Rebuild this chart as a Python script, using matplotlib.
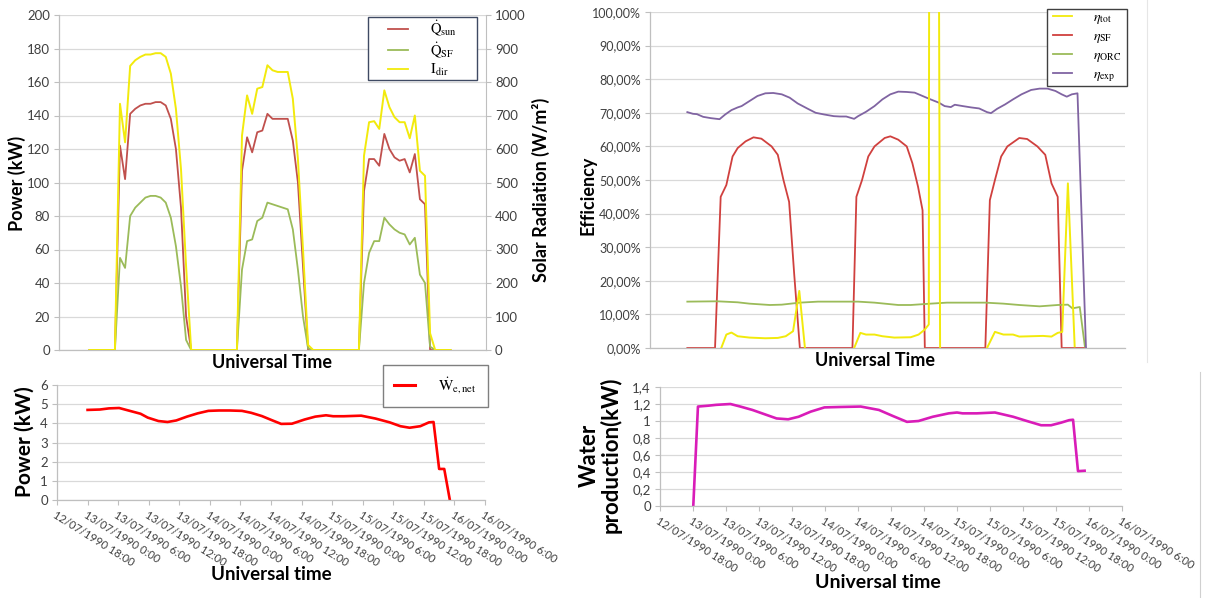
import numpy as np
import matplotlib
matplotlib.use("Agg")
import matplotlib.pyplot as plt
from matplotlib.ticker import FuncFormatter, MultipleLocator
from matplotlib.lines import Line2D
from matplotlib.patches import Rectangle

plt.rcParams['font.family'] = ['Lato', 'DejaVu Sans']
plt.rcParams['mathtext.fontset'] = 'stix'

# === DATA ===
# hours counted from 12/07/1990 18:00
t_hourly = np.arange(6, 78)

q_sun = ([0] * 6
         + [122, 102, 141, 144, 146, 147, 147, 148, 148, 146, 138, 120, 85, 20]
         + [0] * 10
         + [107, 127, 118, 130, 131, 141, 138, 138, 138, 138, 125, 100, 50, 0]
         + [0] * 10
         + [95, 114, 114, 110, 129, 120, 115, 113, 114, 106, 117, 90, 87, 0]
         + [0] * 4)
q_sf = ([0] * 6
        + [55, 49, 80, 85, 88, 91, 92, 92, 91, 88, 79, 62, 38, 6]
        + [0] * 10
        + [48, 65, 66, 77, 79, 88, 87, 86, 85, 84, 72, 48, 20, 1]
        + [0] * 10
        + [40, 58, 65, 65, 79, 75, 72, 70, 69, 63, 67, 45, 40, 2]
        + [0] * 4)
i_dir = ([0] * 6
         + [735, 620, 848, 865, 875, 882, 882, 886, 886, 875, 825, 720, 540, 250]
         + [0] * 10
         + [640, 760, 705, 780, 785, 850, 835, 830, 830, 830, 750, 570, 300, 15]
         + [0] * 10
         + [580, 680, 683, 660, 775, 725, 695, 680, 680, 632, 700, 535, 520, 50]
         + [0] * 4)

t_wnet = [6.0, 8.4, 10.2, 12.2, 14.3, 16.4, 17.8, 19.9, 21.7, 23.4, 25.5, 27.6, 29.7,
          31.8, 33.9, 36.3, 38.1, 40.2, 42.3, 44.0, 46.1, 48.6, 50.7, 52.8, 54.2, 56.3,
          59.7, 62.5, 65.3, 67.4, 69.2, 71.3, 73.0, 73.9, 75.0, 76.0, 77.1]
w_net = [4.70, 4.72, 4.78, 4.80, 4.65, 4.50, 4.30, 4.12, 4.07, 4.15, 4.35, 4.52, 4.65,
         4.67, 4.67, 4.65, 4.55, 4.38, 4.15, 3.97, 3.98, 4.20, 4.35, 4.42, 4.37, 4.37,
         4.40, 4.25, 4.05, 3.85, 3.77, 3.85, 4.05, 4.07, 1.62, 1.62, 0.0]

t_water = [6.05, 6.9, 8.75, 10.2, 12.8, 14.6, 16.8, 19.0, 21.2, 23.3, 25.2, 27.4, 29.9,
           32.8, 36.5, 39.8, 42.3, 44.9, 47.0, 49.6, 52.5, 54.0, 55.0, 57.6, 60.9, 64.2,
           66.7, 69.3, 71.1, 72.9, 74.4, 75.1, 76.0, 77.2]
water = [0.0, 1.17, 1.18, 1.19, 1.20, 1.17, 1.13, 1.08, 1.03, 1.02, 1.05, 1.11, 1.16,
         1.165, 1.17, 1.13, 1.06, 0.99, 1.00, 1.05, 1.09, 1.10, 1.09, 1.09, 1.10, 1.05,
         1.00, 0.95, 0.95, 0.98, 1.01, 1.015, 0.41, 0.415]

t_tot = [12.6, 13.5, 14.4, 15.5, 17.6, 20.4, 22.6, 24.0, 25.3, 26.4, 27.4, 31.0,
         36.1, 37.2, 38.2, 39.7, 41.1, 43.2, 46.1, 47.5, 48.6, 49.3, 49.6, 50.4, 51.3, 55.0,
         59.6, 61.0, 62.5, 64.2, 65.3, 67.4, 69.5, 71.0, 72.1, 72.9, 73.9, 75.1]
eta_tot = [0, 4.0, 4.6, 3.5, 3.1, 2.9, 3.0, 3.5, 5.0, 17.0, 0, np.nan,
           0, 4.5, 4.0, 4.0, 3.5, 3.1, 3.2, 4.0, 5.5, 7.0, 500, 500, 0, np.nan,
           0, 4.8, 4.0, 4.0, 3.4, 3.5, 3.6, 3.4, 4.5, 4.8, 49, 0.5]

t_sf = [6.6, 11.5, 12.5, 13.5, 14.6, 15.5, 16.9, 18.3, 19.7, 21.5, 22.6, 23.6, 24.6, 25.5, 26.5,
        35.8, 36.5, 37.5, 38.6, 39.7, 41.5, 42.5, 43.9, 45.4, 46.4, 47.4, 48.2, 48.6,
        59.3, 60.1, 61.0, 62.1, 63.2, 65.3, 66.7, 68.5, 69.9, 71.0, 72.1, 72.8, 77.1]
eta_sf = [0, 0, 45, 48.5, 57, 59.5, 61.5, 62.7, 62.3, 60.0, 57.5, 50, 43.5, 22, 0,
          0, 45, 50, 57, 60, 62.5, 63, 62, 60, 55, 48, 41, 0,
          0, 44, 50, 57, 60, 62.5, 62.2, 60, 57.5, 49, 45, 0, 0]

t_orc = [6.6, 11.9, 15.5, 17.6, 21.2, 23.3, 26.5, 29.7, 36.8, 39.7, 43.9, 46.1, 49.6,
         52.5, 59.3, 62.5, 65.3, 68.9, 72.1, 73.9, 74.7, 76.0, 76.9]
eta_orc = [13.8, 13.9, 13.6, 13.2, 12.8, 12.9, 13.5, 13.8, 13.8, 13.5, 12.8, 12.8, 13.2,
           13.5, 13.5, 13.2, 12.8, 12.4, 12.8, 12.9, 11.8, 12.2, 0.5]

t_exp = [6.6, 7.6, 8.3, 9.4, 10.8, 12.3, 13.3, 14.4, 15.5, 16.2, 17.6, 19.0, 20.4, 21.8,
         23.3, 24.7, 26.1, 27.9, 29.3, 30.8, 32.5, 33.6, 34.7, 36.1, 36.8, 38.2, 39.7,
         41.1, 42.5, 43.9, 45.4, 46.8, 48.2, 49.6, 51.1, 52.1, 53.2, 53.9, 55.3, 56.8,
         58.2, 59.6, 60.3, 61.4, 62.8, 64.2, 65.7, 67.4, 68.9, 70.3, 71.7, 72.8, 73.7,
         74.6, 75.6, 77.1]
eta_exp = [70.2, 69.7, 69.6, 68.8, 68.4, 68.1, 69.5, 70.8, 71.6, 72.0, 73.5, 75.0, 75.8,
           75.9, 75.5, 74.5, 72.8, 71.2, 70.0, 69.5, 69.0, 68.9, 68.9, 68.2, 69.0, 70.3,
           72.0, 74.0, 75.5, 76.3, 76.2, 76.0, 75.0, 74.0, 73.0, 72.0, 71.7, 72.4, 72.0,
           71.6, 71.3, 70.2, 69.9, 71.2, 72.5, 74.0, 75.5, 76.8, 77.2, 77.2, 76.5, 75.5,
           74.8, 75.5, 75.8, 0.0]

x_ticks = np.arange(0, 85, 6)
x_tick_labels = ["12/07/1990 18:00", "13/07/1990 0:00", "13/07/1990 6:00",
                 "13/07/1990 12:00", "13/07/1990 18:00", "14/07/1990 0:00",
                 "14/07/1990 6:00", "14/07/1990 12:00", "14/07/1990 18:00",
                 "15/07/1990 0:00", "15/07/1990 6:00", "15/07/1990 12:00",
                 "15/07/1990 18:00", "16/07/1990 0:00", "16/07/1990 6:00"]

# === STYLE ===
W, H = 1209, 598
GRID = '#D9D9D9'
AXIS = '#BFBFBF'
TXT = '#404040'

fig = plt.figure(figsize=(W / 100, H / 100), dpi=100)


def px_axes(l, t, r, b):
    return fig.add_axes([l / W, 1 - b / H, (r - l) / W, (b - t) / H])


def excel_style(ax):
    for s in ['top', 'right']:
        ax.spines[s].set_visible(False)
    for s in ['left', 'bottom']:
        ax.spines[s].set_color(AXIS)
        ax.spines[s].set_linewidth(0.9)
    ax.grid(axis='y', color=GRID, lw=0.9)
    ax.set_axisbelow(True)
    ax.tick_params(colors=AXIS, labelcolor=TXT, labelsize=9.5, length=3.5, width=0.8, pad=3)
    ax.set_xlim(0, 84)


def legend_box(ax, handles, box, size, edge, spacing):
    # box = (left, top, right, bottom) in figure pixels, drawn like the Excel legend frame
    l, t, r, b = box
    rect = Rectangle((l / W, 1 - b / H), (r - l) / W, (b - t) / H, transform=fig.transFigure,
                     facecolor='white', edgecolor=edge, lw=1.0, zorder=19, clip_on=False)
    ax.add_artist(rect)
    leg = ax.legend(handles=handles, loc='center',
                    bbox_to_anchor=((l + r) / 2 / W, 1 - (t + b) / 2 / H),
                    bbox_transform=fig.transFigure, frameon=False,
                    prop={'size': size}, handlelength=1.4, handletextpad=1.5,
                    labelspacing=spacing, borderpad=0)
    leg.set_zorder(20)
    return leg


# === 1. Top-left: power + solar radiation ===
ax1 = px_axes(59, 15, 486, 350)
excel_style(ax1)
ax1.set_ylim(0, 200)
ax1.yaxis.set_major_locator(MultipleLocator(20))
ax1.set_xticks([])
ax1.plot(t_hourly, q_sun, color='#C0504D', lw=1.3)
ax1.plot(t_hourly, q_sf, color='#9BBB59', lw=1.3)

ax1b = ax1.twinx()
ax1b.set_ylim(0, 1000)
ax1b.yaxis.set_major_locator(MultipleLocator(100))
for s in ['top', 'left', 'bottom']:
    ax1b.spines[s].set_visible(False)
ax1b.spines['right'].set_color(AXIS)
ax1b.tick_params(colors=AXIS, labelcolor=TXT, labelsize=9.5, length=3.5, width=0.8, pad=3)
ax1b.plot(t_hourly, i_dir, color='#F2EA0C', lw=1.4)
legend_box(ax1b, [
    Line2D([], [], color='#C0504D', lw=1.3, label=r'$\dot{\mathrm{Q}}_{\mathrm{sun}}$'),
    Line2D([], [], color='#9BBB59', lw=1.3, label=r'$\dot{\mathrm{Q}}_{\mathrm{SF}}$'),
    Line2D([], [], color='#F2EA0C', lw=1.3, label=r'$\mathrm{I}_{\mathrm{dir}}$'),
], (368, 17, 477, 80), 10.5, '#3F4A63', 0.15)

fig.text(17 / W, 1 - 183 / H, 'Power (kW)', rotation=90, ha='center', va='center',
         fontsize=13, fontweight='bold')
fig.text(541 / W, 1 - 190 / H, 'Solar Radiation (W/m²)', rotation=90, ha='center',
         va='center', fontsize=13, fontweight='bold')
fig.text(272 / W, 1 - 362 / H, 'Universal Time', ha='center', va='center',
         fontsize=13, fontweight='bold')

# === 2. Bottom-left: net electric power ===
ax2 = px_axes(57, 385, 485, 500)
excel_style(ax2)
ax2.set_ylim(0, 6)
ax2.yaxis.set_major_locator(MultipleLocator(1))
ax2.plot(t_wnet, w_net, color='#FF0000', lw=1.9)
ax2.set_xticks(x_ticks)
ax2.set_xticklabels(x_tick_labels, rotation=-32, ha='left', va='top',
                    rotation_mode='anchor', fontsize=8)
legend_box(ax2, [
    Line2D([], [], color='#FF0000', lw=2.2, label=r'$\dot{\mathrm{W}}_{\mathrm{e,net}}$'),
], (383, 365, 488, 407), 11, '#7F7F7F', 0.2)

fig.text(25 / W, 1 - 442 / H, 'Power (kW)', rotation=90, ha='center', va='center',
         fontsize=15, fontweight='bold')
fig.text(271 / W, 1 - 575 / H, 'Universal time', ha='center', va='center',
         fontsize=13.5, fontweight='bold')

# === 3. Top-right: efficiencies ===
ax3 = px_axes(650, 12, 1125, 348)
excel_style(ax3)
ax3.set_ylim(0, 100)
ax3.yaxis.set_major_locator(MultipleLocator(10))
ax3.yaxis.set_major_formatter(FuncFormatter(lambda v, p: f"{v:.2f}%".replace('.', ',')))
ax3.tick_params(axis='y', labelsize=9)
ax3.set_xticks([])
ax3.plot(t_sf, eta_sf, color='#D0403E', lw=1.3)
ax3.plot(t_orc, eta_orc, color='#9BBB59', lw=1.3)
ax3.plot(t_exp, eta_exp, color='#8064A2', lw=1.3)
ax3.plot(t_tot, eta_tot, color='#F2EA0C', lw=1.4, zorder=5)
legend_box(ax3, [
    Line2D([], [], color='#F2EA0C', lw=1.3, label=r'$\eta_{\mathrm{tot}}$'),
    Line2D([], [], color='#D0403E', lw=1.3, label=r'$\eta_{\mathrm{SF}}$'),
    Line2D([], [], color='#9BBB59', lw=1.3, label=r'$\eta_{\mathrm{ORC}}$'),
    Line2D([], [], color='#8064A2', lw=1.3, label=r'$\eta_{\mathrm{exp}}$'),
], (1047, 9, 1127, 86), 10, '#404040', 0.3)

fig.text(588 / W, 1 - 195 / H, 'Efficiency', rotation=90, ha='center', va='center',
         fontsize=13, fontweight='bold')
fig.text(875 / W, 1 - 360 / H, 'Universal Time', ha='center', va='center',
         fontsize=13, fontweight='bold')

# === 4. Bottom-right: water production ===
ax4 = px_axes(660, 387, 1122, 506)
excel_style(ax4)
ax4.set_ylim(0, 1.4)
ax4.yaxis.set_major_locator(MultipleLocator(0.2))
ax4.yaxis.set_major_formatter(FuncFormatter(lambda v, p: f"{v:.1f}".rstrip('0').rstrip('.').replace('.', ',')))
ax4.plot(t_water, water, color='#D91CB8', lw=1.9)
ax4.set_xticks(x_ticks)
ax4.set_xticklabels(x_tick_labels, rotation=-32, ha='left', va='top',
                    rotation_mode='anchor', fontsize=8)

fig.text(600 / W, 1 - 455 / H, 'Water\nproduction(kW)', rotation=90, ha='center',
         va='center', fontsize=16, fontweight='bold', linespacing=1.0)
fig.text(878 / W, 1 - 583 / H, 'Universal time', ha='center', va='center',
         fontsize=14, fontweight='bold')

# faint borders of the pasted chart images
fig.add_artist(Line2D([1147 / W, 1147 / W], [1, 1 - 362 / H], color='#E6E6E6', lw=0.8))
fig.add_artist(Line2D([1200 / W, 1200 / W], [1 - 372 / H, 0], color='#D0D0D0', lw=0.8))

fig.savefig('out.png', dpi=100)
